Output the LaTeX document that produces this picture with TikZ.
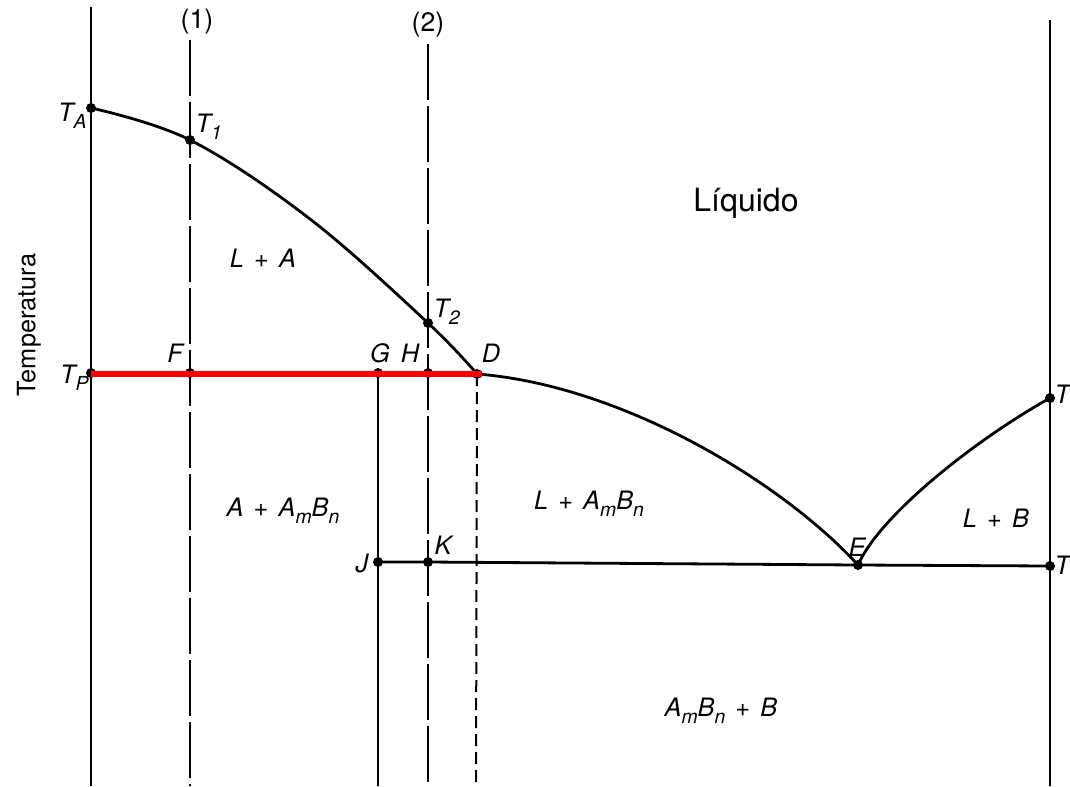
\documentclass[tikz,border=0pt]{standalone}
\usepackage{fontspec}
\setmainfont{TeX Gyre Heros}
\newcommand{\lsub}[1]{\raisebox{-5pt}{\fontsize{14.5}{15}\selectfont #1}}
\newcommand{\pl}{\hspace{0.4em}+\hspace{0.4em}}
\tikzset{
  lbl/.style={font=\fontsize{19}{22}\selectfont\itshape, inner sep=1pt},
  dot/.style={circle, fill=black, inner sep=0pt, minimum size=7.5pt},
  axis/.style={line width=1.5pt},
  comp/.style={line width=1.5pt, dash pattern=on 42pt off 4.5pt},
  dashd/.style={line width=1.5pt, dash pattern=on 9pt off 4.5pt},
  curve/.style={line width=2.1pt},
}
\begin{document}
\begin{tikzpicture}[x=0.75pt, y=-0.75pt]
\useasboundingbox (0,0) rectangle (1070,786);
\fill[white] (0,0) rectangle (1070,786);
% coordinates
\coordinate (Lt) at (91,7);
\coordinate (Lb) at (91,786);
\coordinate (Rt) at (1050,20);
\coordinate (Rb) at (1050,786);
\coordinate (C1t) at (190,40);
\coordinate (C1b) at (190,786);
\coordinate (C2t) at (428,44);
\coordinate (C2b) at (428,786);
\coordinate (Gb) at (378,786);
\coordinate (Db) at (476,786);
% points
\node[dot] (TA) at (91,108) {};
\node[dot] (T1) at (190,140) {};
\node[dot] (T2) at (428,323) {};
\node[dot] (TP) at (91,373) {};
\node[dot] (F) at (190,373) {};
\node[dot] (G) at (378,373) {};
\node[dot] (H) at (428,373) {};
\node[dot] (D) at (477,374) {};
\node[dot] (J) at (378,562) {};
\node[dot] (K) at (428,562) {};
\node[dot] (E) at (858,565) {};
\node[dot] (TE) at (1050,566) {};
\node[dot] (TB) at (1050,398) {};
% vertical lines
\draw[axis] (Lt) -- (Lb);
\draw[axis] (Rt) -- (Rb);
\draw[comp] (C1t) -- (C1b);
\draw[comp] (C2t) -- (C2b);
\draw[axis] (G.center) -- (Gb);
\draw[dashd] (D.center) -- (Db);
% liquidus curves
\draw[curve] plot[smooth, tension=0.6] coordinates {(91,108) (190,140) (310,219) (428,323) (477,374)};
\draw[curve] (D.center) .. controls (620,385) and (780,480) .. (E.center);
\draw[curve] (E.center) .. controls (880,515) and (975,440) .. (TB.center);
% eutectic line
\draw[curve] (J.center) -- (K.center) -- (E.center) -- (TE.center);
% red peritectic line
\draw[red, line width=4pt] (91,374) -- (482,374);
% labels
\node[font=\fontsize{20}{24}\selectfont] (l1) at (197,22) {(1)};
\node[font=\fontsize{20}{24}\selectfont] (l2) at (428,25) {(2)};
\node[lbl, anchor=east] at (88,116) {T\lsub{A}};
\node[lbl, anchor=west] at (194,127) {T\lsub{1}};
\node[lbl, anchor=west] at (432,312) {T\lsub{2}};
\node[lbl, anchor=east] at (90,378) {T\lsub{P}};
\node[lbl] at (175,353) {F};
\node[lbl] at (380,353) {G};
\node[lbl] at (410,353) {H};
\node[lbl] at (491,353) {D};
\node[lbl] at (362,563) {J};
\node[lbl] at (443,545) {K};
\node[lbl] at (857,547) {E};
\node[lbl, anchor=west] at (1053,398) {T\lsub{B}};
\node[lbl, anchor=west] at (1053,569) {T\lsub{E}};
\node[lbl] at (263,258) {L\pl A};
\node[lbl] at (283,511) {A\pl A\lsub{m}B\lsub{n}};
\node[lbl] at (589,504) {L\pl A\lsub{m}B\lsub{n}};
\node[lbl] at (996,518) {L\pl B};
\node[lbl] at (721,711) {A\lsub{m}B\lsub{n}\pl B};
\node[font=\fontsize{24}{28}\selectfont] at (746,203) {Líquido};
\node[font=\fontsize{19}{22}\selectfont, rotate=90] at (29,325) {Temperatura};
\end{tikzpicture}
\end{document}
